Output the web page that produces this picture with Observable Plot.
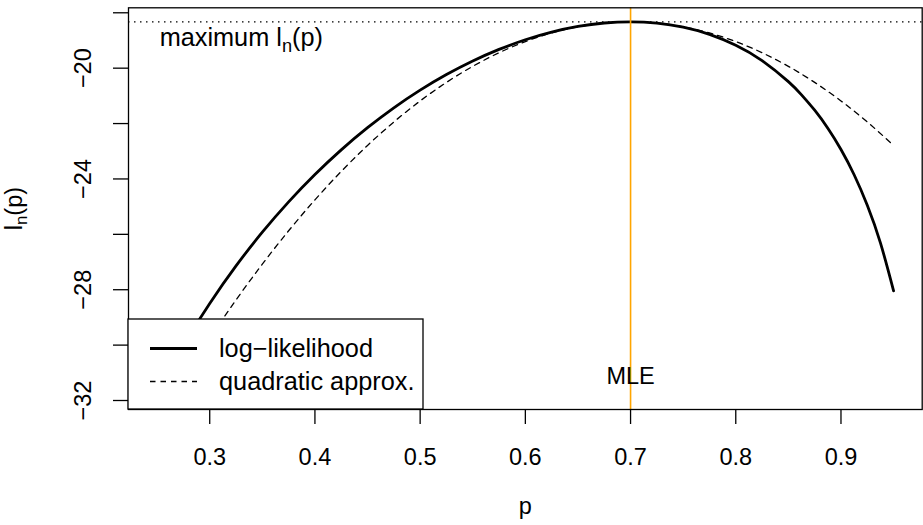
<!DOCTYPE html>
<html>
<head>
<meta charset="utf-8">
<script src="https://cdn.jsdelivr.net/npm/d3@7"></script>
<script src="https://cdn.jsdelivr.net/npm/@observablehq/plot@0.6"></script>
<style>
  html, body { margin: 0; padding: 0; background: #fff; }
  #chart { width: 923px; height: 525px; }
  svg { display: block; }
</style>
</head>
<body>
<div id="chart"></div>
<script>
// ---- data ----
const pLogLik = [0.25,0.275,0.3,0.325,0.35,0.375,0.4,0.425,0.45,0.475,0.5,0.525,0.55,0.575,0.6,0.625,0.65,0.675,0.7,0.725,0.75,0.775,0.8,0.825,0.85,0.8625,0.875,0.8875,0.9,0.9125,0.925,0.9375,0.95];
const logLik = [-31.701,-30.005,-28.494,-27.140,-25.923,-24.827,-23.840,-22.949,-22.149,-21.432,-20.794,-20.231,-19.741,-19.322,-18.974,-18.698,-18.495,-18.369,-18.326,-18.372,-18.518,-18.778,-19.171,-19.727,-20.487,-20.964,-21.519,-22.170,-22.936,-23.848,-24.950,-26.309,-28.039];
const pQuad = [0.25,0.275,0.3,0.325,0.35,0.375,0.4,0.425,0.45,0.475,0.5,0.525,0.55,0.575,0.6,0.625,0.65,0.675,0.7,0.725,0.75,0.775,0.8,0.825,0.85,0.875,0.9,0.925,0.95];
const quadApprox = [-32.791,-31.228,-29.755,-28.371,-27.076,-25.871,-24.755,-23.728,-22.790,-21.942,-21.183,-20.514,-19.933,-19.442,-19.040,-18.728,-18.505,-18.371,-18.326,-18.371,-18.505,-18.728,-19.040,-19.442,-19.933,-20.514,-21.183,-21.942,-22.790];
const mle = [0.7];
const maxLogLik = [-18.326];
const seriesNames = ["log\u2212likelihood", "quadratic approx."];
const xTicks = [0.3,0.4,0.5,0.6,0.7,0.8,0.9];
const xTickLabels = ["0.3","0.4","0.5","0.6","0.7","0.8","0.9"];
const yTicks = [-18,-20,-22,-24,-26,-28,-30,-32];
const yTickLabels = ["","\u221220","","\u221224","","\u221228","","\u221232"];
const xLabel = "p";
const yLabel = "ln(p)";
const maxLabel = "maximum ln(p)";
const maxLabelPos = [{p: 0.33, v: -18.89}];
const mleLabel = "MLE";
const mleLabelPos = [{p: 0.7, v: -31.13}];

// ---- build ----
const llData = pLogLik.map((p, i) => ({p, v: logLik[i]}));
const qData = pQuad.map((p, i) => ({p, v: quadApprox[i]}));
const xFmt = new Map(xTicks.map((t, i) => [t, xTickLabels[i]]));
const yFmt = new Map(yTicks.map((t, i) => [t, yTickLabels[i]]));

const W = 923, H = 525, mL = 128, mR = 1.3, mT = 7.3, mB = 116;
const FS = 23.5;   // axis / MLE text
const FS2 = 25.3;  // annotation & legend text
const font = "'Liberation Sans', Arial, Helvetica, sans-serif";

const svg = Plot.plot({
  width: W, height: H,
  marginLeft: mL, marginRight: mR, marginTop: mT, marginBottom: mB,
  style: {fontFamily: font, fontSize: FS + "px", background: "white", color: "black", overflow: "visible"},
  x: {domain: [0.2228, 0.9772]},
  y: {domain: [-32.325, -17.82]},
  marks: [
    Plot.line(llData, {x: "p", y: "v", stroke: "black", strokeWidth: 2.8, curve: "natural", clip: true}),
    Plot.line(qData, {x: "p", y: "v", stroke: "black", strokeWidth: 1.3, strokeDasharray: "5.5,5", curve: "natural", clip: true}),
    Plot.ruleY(maxLogLik, {stroke: "black", strokeWidth: 1.3, strokeDasharray: "1.5,4.5"}),
    Plot.ruleX(mle, {stroke: "orange", strokeWidth: 1.6}),
    Plot.text(maxLabelPos, {x: "p", y: "v", text: () => maxLabel, fontSize: FS2, textAnchor: "middle", lineAnchor: "middle", fill: "black"}),
    Plot.text(mleLabelPos, {x: "p", y: "v", text: () => mleLabel, fontSize: FS, textAnchor: "middle", lineAnchor: "middle", fill: "black"}),
    Plot.frame({stroke: "black", strokeWidth: 1.3}),
    Plot.axisX({ticks: xTicks, tickFormat: d => xFmt.get(d), tickSize: 15, tickPadding: 24, fontSize: FS, strokeWidth: 1.3, label: null}),
    Plot.axisY({ticks: yTicks, tickFormat: d => yFmt.get(d), tickSize: 15, tickPadding: 23, tickRotate: -90, fontSize: FS, strokeWidth: 1.3, label: null}),
    Plot.text([xLabel], {frameAnchor: "bottom", text: d => d, dy: 104, lineAnchor: "bottom", fontSize: FS, fill: "black"}),
    Plot.text([yLabel], {frameAnchor: "left", text: d => d, dx: -107, rotate: -90, lineAnchor: "bottom", textAnchor: "middle", fontSize: FS, fill: "black"})
  ]
});

// subscripts for l_n(p)
d3.select(svg).selectAll("text").each(function () {
  const t = this.textContent;
  if (t === yLabel || t === maxLabel) {
    const big = t === maxLabel ? FS2 : FS;
    const pre = t === yLabel ? "l" : "maximum l";
    const sel = d3.select(this);
    sel.text(null);
    sel.append("tspan").text(pre);
    sel.append("tspan").attr("dy", big * 0.24).attr("font-size", (big * 0.72) + "px").text("n");
    sel.append("tspan").attr("dy", -big * 0.24).text("(p)");
  }
});

// legend (bottom-left of the plot region, like R's legend("bottomleft"))
const lg = d3.select(svg).append("g")
  .attr("font-family", font).attr("font-size", FS2 + "px").attr("text-anchor", "start");
const lgW = 295, lgH = 90;
const lx = mL, ly = H - mB - lgH;
lg.append("rect").attr("x", lx).attr("y", ly).attr("width", lgW).attr("height", lgH)
  .attr("fill", "white").attr("stroke", "black").attr("stroke-width", 1.3);
const rows = [
  {name: seriesNames[0], w: 2.8, dash: null},
  {name: seriesNames[1], w: 1.3, dash: "5.5,5"}
];
rows.forEach((r, i) => {
  const yy = ly + 29.5 + i * 33;
  const ln = lg.append("line").attr("x1", lx + 22).attr("x2", lx + 69).attr("y1", yy).attr("y2", yy)
    .attr("stroke", "black").attr("stroke-width", r.w);
  if (r.dash) ln.attr("stroke-dasharray", r.dash);
  lg.append("text").attr("x", lx + 91).attr("y", yy).attr("dy", "0.35em")
    .attr("text-anchor", "start").attr("fill", "black").text(r.name);
});

document.getElementById("chart").appendChild(svg);
</script>
</body>
</html>
